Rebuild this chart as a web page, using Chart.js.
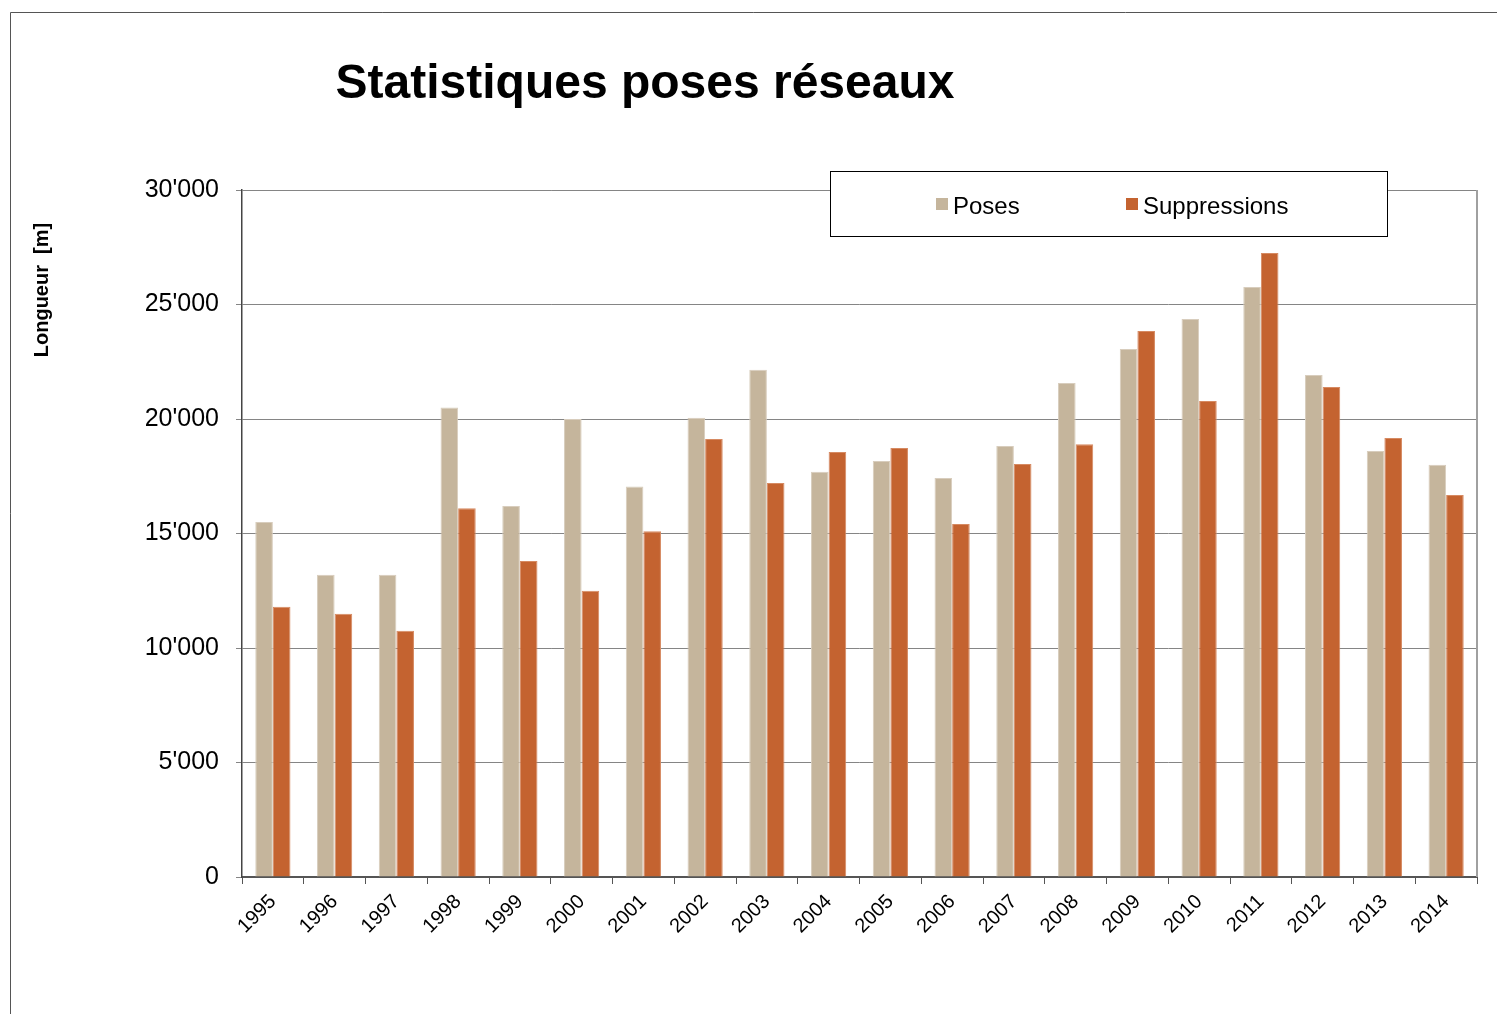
<!DOCTYPE html>
<html>
<head>
<meta charset="utf-8">
<script src="https://cdn.jsdelivr.net/npm/chart.js@4.4.1/dist/chart.umd.min.js"></script>
<style>
    html, body { margin: 0; padding: 0; background: #fff; }
    #wrap { width: 1497px; height: 1014px; position: relative; }
</style>
</head>
<body>
<div id="wrap"><canvas id="chartCanvas" width="1497" height="1014"></canvas></div>
<script>
// Statistiques poses réseaux - longueurs posées / supprimées par année

const years = ['1995', '1996', '1997', '1998', '1999', '2000', '2001', '2002', '2003', '2004',
    '2005', '2006', '2007', '2008', '2009', '2010', '2011', '2012', '2013', '2014'];
const poses = [15500, 13200, 13200, 20500, 16200, 20000, 17050, 20050, 22150, 17700,
    18170, 17420, 18820, 21570, 23060, 24370, 25760, 21920, 18600, 18000];
const suppressions = [11800, 11500, 10750, 16100, 13800, 12500, 15100, 19130, 17200, 18560,
    18730, 15410, 18040, 18900, 23840, 20790, 27250, 21400, 19170, 16680];
const yTicks = [0, 5000, 10000, 15000, 20000, 25000, 30000];

const titleText = 'Statistiques poses réseaux';
const yTitleText = 'Longueur  [m]';
const fontFamily = 'Arial, "Liberation Sans", sans-serif';

function formatThousands(v) {
    return String(v).replace(/\B(?=(\d{3})+(?!\d))/g, "'");
}

// frame, title, axis title, legend box and right border
const decorPlugin = {
    id: 'decor',
    beforeDraw(chart) {
        const ctx = chart.ctx;
        ctx.save();
        ctx.fillStyle = '#fff';
        ctx.fillRect(0, 0, chart.width, chart.height);
        ctx.strokeStyle = '#555';
        ctx.lineWidth = 1;
        ctx.beginPath();
        ctx.moveTo(10.5, chart.height);
        ctx.lineTo(10.5, 12.5);
        ctx.lineTo(chart.width, 12.5);
        ctx.stroke();
        ctx.restore();
    },
    afterDraw(chart) {
        const ctx = chart.ctx;
        const area = chart.chartArea;
        ctx.save();

        // right border of plot
        ctx.strokeStyle = '#a0a0a0';
        ctx.lineWidth = 2;
        ctx.beginPath();
        ctx.moveTo(area.right, area.top);
        ctx.lineTo(area.right, area.bottom);
        ctx.stroke();

        // title
        ctx.fillStyle = '#000';
        ctx.font = 'bold 48px ' + fontFamily;
        ctx.textAlign = 'center';
        ctx.textBaseline = 'middle';
        ctx.fillText(titleText, 645, 85);

        // y axis title
        ctx.save();
        ctx.translate(42, 290);
        ctx.rotate(-Math.PI / 2);
        ctx.font = 'bold 20px ' + fontFamily;
        ctx.fillText(yTitleText, 0, 0);
        ctx.restore();

        // legend
        ctx.fillStyle = '#fff';
        ctx.fillRect(830, 171, 557, 65);
        ctx.strokeStyle = '#000';
        ctx.lineWidth = 1;
        ctx.strokeRect(830.5, 171.5, 557, 65);
        const items = [[936, 0], [1126, 1]];
        ctx.font = '24px ' + fontFamily;
        ctx.textAlign = 'left';
        items.forEach(([x, i]) => {
            const ds = chart.data.datasets[i];
            ctx.fillStyle = ds.backgroundColor;
            ctx.fillRect(x, 198, 12, 12);
            ctx.fillStyle = '#000';
            ctx.fillText(ds.label, x + 17, 207);
        });
        ctx.restore();
    }
};

const ctx = document.getElementById('chartCanvas').getContext('2d');
new Chart(ctx, {
    type: 'bar',
    data: {
        labels: years,
        datasets: [
            {
                label: 'Poses',
                data: poses,
                backgroundColor: '#c5b59c',
                borderColor: '#d8cdbd',
                borderWidth: 1
            },
            {
                label: 'Suppressions',
                data: suppressions,
                backgroundColor: '#c46330',
                borderColor: '#d68a62',
                borderWidth: 1
            }
        ]
    },
    options: {
        responsive: false,
        animation: false,
        devicePixelRatio: 1,
        layout: { padding: { left: 0, top: 190, right: 20, bottom: 0 } },
        plugins: {
            legend: { display: false },
            title: { display: false },
            tooltip: { enabled: false }
        },
        datasets: { bar: { barPercentage: 1, categoryPercentage: 0.57 } },
        scales: {
            x: {
                afterFit(scale) { scale.height = 137; },
                grid: { drawOnChartArea: false, drawTicks: true, tickLength: 7, color: '#555', offset: true },
                border: { color: '#555', width: 2 },
                ticks: {
                    color: '#000',
                    font: { family: fontFamily, size: 20 },
                    maxRotation: 45,
                    minRotation: 45,
                    padding: 6,
                    autoSkip: false
                }
            },
            y: {
                min: 0,
                max: 30000,
                afterFit(scale) { scale.width = 242; },
                afterBuildTicks(scale) { scale.ticks = yTicks.map(v => ({ value: v })); },
                grid: { color: '#858585', lineWidth: 1, tickLength: 6 },
                border: { color: '#444', width: 1.5 },
                ticks: {
                    color: '#000',
                    font: { family: fontFamily, size: 25 },
                    padding: 17,
                    callback: v => formatThousands(v)
                }
            }
        }
    },
    plugins: [decorPlugin]
});
</script>
</body>
</html>
